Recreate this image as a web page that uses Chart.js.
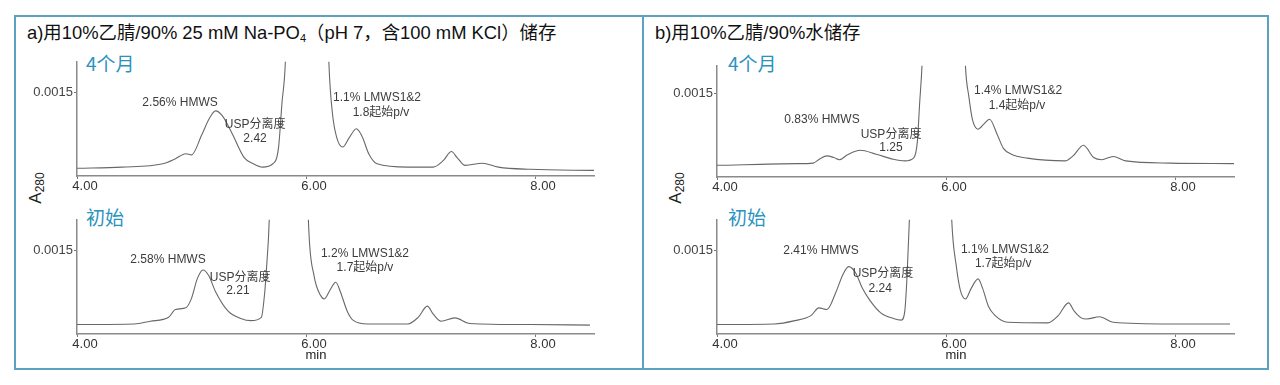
<!DOCTYPE html>
<html>
<head>
<meta charset="utf-8">
<script src="https://cdn.jsdelivr.net/npm/chart.js@4.4.1/dist/chart.umd.min.js"></script>
<style>
  body { margin: 0; width: 1280px; height: 385px; position: relative; overflow: hidden; background: #fff;
         font-family: "Liberation Sans", "Noto Sans CJK SC", sans-serif; }
  .panel { position: absolute; border: 2px solid #5ba3c0; box-sizing: border-box; }
  .title { position: absolute; font-size: 18.4px; line-height: 20px; color: #111; white-space: nowrap; }
  .title sub { font-size: 11px; vertical-align: -3px; line-height: 0; }
  .tag { position: absolute; font-size: 19px; line-height: 22px; color: #2a93bd; font-family: "Noto Sans CJK SC", sans-serif; }
  .ylab { position: absolute; font-size: 17px; color: #222; white-space: nowrap; transform: translate(-50%, -50%) rotate(-90deg); }
  .ylab sub { font-size: 12px; vertical-align: -3px; line-height: 0; }
  canvas { position: absolute; }
</style>
</head>
<body>
<div class="panel" style="left:14px;top:15px;width:630px;height:355px"></div>
<div class="panel" style="left:642px;top:15px;width:627px;height:355px"></div>

<div class="title" style="left:27px;top:23px">a)用10%乙腈/90% 25 mM Na-PO<sub>4</sub>（pH 7，含100 mM KCl）储存</div>
<div class="title" style="left:655px;top:23px">b)用10%乙腈/90%水储存</div>

<div class="tag" style="left:86px;top:52px">4个月</div>
<div class="tag" style="left:86px;top:206px">初始</div>
<div class="tag" style="left:728px;top:52px">4个月</div>
<div class="tag" style="left:728px;top:206px">初始</div>

<div class="ylab" style="left:36px;top:188px">A<sub>280</sub></div>
<div class="ylab" style="left:676px;top:188px">A<sub>280</sub></div>

<canvas id="cA4"></canvas>
<canvas id="cA0"></canvas>
<canvas id="cB4"></canvas>
<canvas id="cB0"></canvas>

<script>
// x ticks (min) and the single y tick (AU)
const xTicks = [4, 6, 8];
const yTicks = [0.0015];

// a) 4 months
const tA4 = [4.00, 4.39, 4.75, 4.86, 4.95, 5.00, 5.09, 5.16, 5.21, 5.27, 5.36, 5.46, 5.54, 5.62, 5.71, 5.76, 5.79, 5.82,
             5.90, 6.00, 6.12, 6.20, 6.23, 6.27, 6.32, 6.375, 6.44, 6.49, 6.55, 6.62, 6.89, 7.11, 7.20, 7.27, 7.32, 7.39,
             7.54, 7.68, 7.96, 8.52];
const aA4 = [0.00014, 0.00016, 0.00022, 0.00031, 0.00040, 0.00038, 0.00074, 0.00105, 0.00117, 0.00108, 0.00074, 0.00033,
             0.00022, 0.00016, 0.00022, 0.00051, 0.00131, 0.00206, 0.008, 0.02, 0.008, 0.00203, 0.00114, 0.00068, 0.00052,
             0.00068, 0.00085, 0.00071, 0.00039, 0.00022, 0.00016, 0.00016, 0.00028, 0.00044, 0.00033, 0.00019, 0.00023,
             0.00016, 0.00012, 0.00010];

// a) initial
const tA0 = [4.00, 4.50, 4.64, 4.80, 4.86, 4.95, 5.00, 5.05, 5.10, 5.15, 5.21, 5.32, 5.43, 5.52, 5.61, 5.64, 5.66, 5.675,
             5.72, 5.85, 5.98, 6.025, 6.07, 6.125, 6.16, 6.21, 6.26, 6.30, 6.36, 6.41, 6.54, 6.89, 6.98, 7.06, 7.11, 7.18,
             7.30, 7.43, 7.96, 8.48];
const aA0 = [0.00017, 0.00018, 0.00023, 0.00030, 0.00044, 0.00047, 0.00064, 0.00099, 0.00115, 0.00105, 0.00076, 0.00041,
             0.00028, 0.00024, 0.00030, 0.00076, 0.00133, 0.00185, 0.005, 0.02, 0.005, 0.00185, 0.00105, 0.00070, 0.00063,
             0.00079, 0.00093, 0.00076, 0.00041, 0.00025, 0.00018, 0.00018, 0.00030, 0.00050, 0.00036, 0.00023, 0.00029,
             0.00019, 0.00017, 0.00016];

// b) 4 months
const tB4 = [4.00, 4.70, 4.84, 4.90, 4.96, 5.02, 5.07, 5.14, 5.25, 5.39, 5.54, 5.64, 5.72, 5.75, 5.77, 5.79,
             5.86, 5.98, 6.10, 6.17, 6.20, 6.23, 6.28, 6.33, 6.38, 6.45, 6.50, 6.57, 6.71, 7.04, 7.11, 7.20, 7.29, 7.36,
             7.46, 7.57, 7.96, 8.52];
const aB4 = [0.00021, 0.00024, 0.00025, 0.00033, 0.00038, 0.00035, 0.00031, 0.00040, 0.00048, 0.00041, 0.00032, 0.00029,
             0.00035, 0.00064, 0.00133, 0.00199, 0.006, 0.02, 0.006, 0.00199, 0.00144, 0.00104, 0.00086, 0.00095, 0.00104,
             0.00075, 0.00052, 0.00041, 0.00034, 0.00029, 0.00038, 0.00057, 0.00035, 0.00031, 0.00037, 0.00029, 0.00025,
             0.00024];

// b) initial
const tB0 = [4.00, 4.50, 4.68, 4.82, 4.89, 4.96, 5.04, 5.10, 5.15, 5.21, 5.27, 5.34, 5.43, 5.54, 5.61, 5.64, 5.66, 5.68,
             5.75, 5.87, 5.99, 6.05, 6.09, 6.125, 6.17, 6.22, 6.28, 6.32, 6.37, 6.43, 6.54, 6.89, 6.98, 7.07, 7.12, 7.18,
             7.23, 7.34, 7.46, 7.96, 8.48];
const aB0 = [0.00017, 0.00018, 0.00024, 0.00033, 0.00047, 0.00044, 0.00076, 0.00107, 0.00121, 0.00110, 0.00082, 0.00059,
             0.00038, 0.00028, 0.00025, 0.00041, 0.00105, 0.00205, 0.006, 0.02, 0.006, 0.00205, 0.00122, 0.00079, 0.00063,
             0.00082, 0.00099, 0.00082, 0.00050, 0.00033, 0.00021, 0.00020, 0.00033, 0.00056, 0.00041, 0.00029, 0.00027,
             0.00031, 0.00021, 0.00018, 0.00018];

// peak annotations, placed in data units
const notesA4 = [
  { text: "2.56% HMWS", x: 4.90, y: 0.00131 },
  { text: "USP分离度", x: 5.555, y: 0.00093 },
  { text: "2.42", x: 5.555, y: 0.00067 },
  { text: "1.1% LMWS1&2", x: 6.62, y: 0.00140 },
  { text: "1.8起始p/v", x: 6.655, y: 0.00114 },
];
const notesA0 = [
  { text: "2.58% HMWS", x: 4.795, y: 0.00133 },
  { text: "USP分离度", x: 5.425, y: 0.00102 },
  { text: "2.21", x: 5.405, y: 0.00078 },
  { text: "1.2% LMWS1&2", x: 6.515, y: 0.00145 },
  { text: "1.7起始p/v", x: 6.515, y: 0.00119 },
];
const notesB4 = [
  { text: "0.83% HMWS", x: 4.917, y: 0.00103 },
  { text: "USP分离度", x: 5.52, y: 0.00076 },
  { text: "1.25", x: 5.52, y: 0.00052 },
  { text: "1.4% LMWS1&2", x: 6.63, y: 0.00155 },
  { text: "1.4起始p/v", x: 6.62, y: 0.00129 },
];
const notesB0 = [
  { text: "2.41% HMWS", x: 4.908, y: 0.00150 },
  { text: "USP分离度", x: 5.45, y: 0.00109 },
  { text: "2.24", x: 5.425, y: 0.00081 },
  { text: "1.1% LMWS1&2", x: 6.515, y: 0.00152 },
  { text: "1.7起始p/v", x: 6.50, y: 0.00126 },
];

const FONT = '"Liberation Sans", "Noto Sans CJK SC", sans-serif';
const PX_PER_AU = 58000;
const PX_PER_MIN = 114.5;

// peak notes in data units, plus the "min" unit under the 6.00 tick
const notesPlugin = {
  id: "notes",
  afterDatasetsDraw(chart, args, opts) {
    const { ctx, chartArea, scales: { x, y } } = chart;
    ctx.save();
    ctx.font = "12px " + FONT;
    ctx.fillStyle = "#3c3c3c";
    ctx.textAlign = "center";
    ctx.textBaseline = "middle";
    (opts.items || []).forEach(n => ctx.fillText(n.text, x.getPixelForValue(n.x), y.getPixelForValue(n.y)));
    if (opts.unit) {
      ctx.font = "13px " + FONT;
      ctx.fillStyle = "#222";
      ctx.fillText("min", x.getPixelForValue(6) + 10, chartArea.bottom + 21);
    }
    ctx.restore();
  }
};

// g: page pixel geometry of the plot frame (y axis x, x axis end, top, x axis y)
function drawTrace(id, g, times, abs, notes, unit) {
  const extra = unit ? 10 : 0;
  const left = g.axisX - 60, top = g.top - 4;
  const width = g.axisEnd + 6 - left, height = g.axisY + 22 + extra - top;
  const cv = document.getElementById(id);
  cv.width = width; cv.height = height;
  cv.style.left = left + "px"; cv.style.top = top + "px";
  cv.style.width = width + "px"; cv.style.height = height + "px";

  return new Chart(cv.getContext("2d"), {
    type: "line",
    data: {
      datasets: [{
        data: times.map((t, i) => ({ x: t, y: abs[i] })),
        borderColor: "#686868",
        borderWidth: 1.1,
        pointRadius: 0,
        cubicInterpolationMode: "monotone",
        fill: false,
      }]
    },
    options: {
      responsive: false,
      animation: false,
      devicePixelRatio: 1,
      layout: { padding: { top: 4, right: 6, left: 0, bottom: extra } },
      plugins: { legend: { display: false }, tooltip: { enabled: false }, notes: { items: notes, unit } },
      scales: {
        x: {
          type: "linear",
          min: 4,
          max: 4 + (g.axisEnd - g.axisX) / PX_PER_MIN,
          afterBuildTicks: s => { s.ticks = xTicks.map(v => ({ value: v })); },
          afterFit: s => { s.height = 22; },
          ticks: { callback: v => v.toFixed(2), font: { size: 13, family: FONT }, color: "#333", padding: 0, labelOffset: 8, maxRotation: 0 },
          grid: { drawOnChartArea: false, tickLength: 3, color: "#777" },
          border: { color: "#8a8a8a", width: 1.5 },
        },
        y: {
          min: 0,
          max: (g.axisY - g.top) / PX_PER_AU,
          afterBuildTicks: s => { s.ticks = yTicks.map(v => ({ value: v })); },
          afterFit: s => { s.width = 60; },
          ticks: { callback: v => v.toFixed(4), font: { size: 13, family: FONT }, color: "#444", padding: 1 },
          grid: { drawOnChartArea: false, tickLength: 3, color: "#777" },
          border: { color: "#8a8a8a", width: 1.5 },
        }
      }
    },
    plugins: [notesPlugin]
  });
}

drawTrace("cA4", { axisX: 77, axisEnd: 594, top: 57, axisY: 176 }, tA4, aA4, notesA4, false);
drawTrace("cA0", { axisX: 77, axisEnd: 594, top: 215, axisY: 334 }, tA0, aA0, notesA0, true);
drawTrace("cB4", { axisX: 717, axisEnd: 1234, top: 61, axisY: 177 }, tB4, aB4, notesB4, false);
drawTrace("cB0", { axisX: 717, axisEnd: 1234, top: 215, axisY: 334 }, tB0, aB0, notesB0, true);
</script>
</body>
</html>
